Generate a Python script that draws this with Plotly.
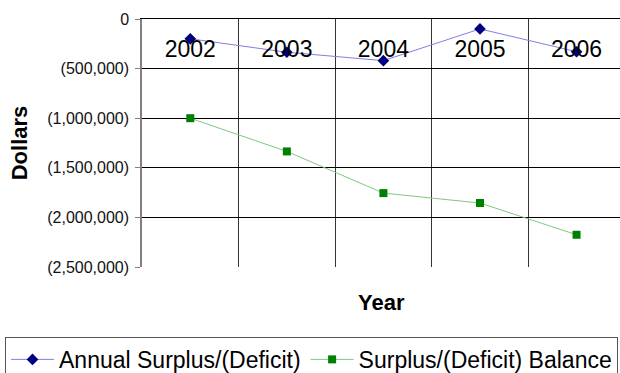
import plotly.graph_objects as go

years = ["2002", "2003", "2004", "2005", "2006"]
annual = [-200000, -335000, -420000, -100000, -330000]
balance = [-1000000, -1335000, -1755000, -1855000, -2175000]
y_tick_values = [0, -500000, -1000000, -1500000, -2000000, -2500000]
y_tick_labels = ["0", "(500,000)", "(1,000,000)", "(1,500,000)", "(2,000,000)", "(2,500,000)"]

FONT = "Liberation Sans, Arial, sans-serif"

fig = go.Figure()
fig.add_trace(go.Scatter(
    x=years, y=annual, name="Annual Surplus/(Deficit)", mode="lines+markers",
    line=dict(color="#8080e0", width=1),
    marker=dict(symbol="diamond", size=9, color="#000080"),
))
fig.add_trace(go.Scatter(
    x=years, y=balance, name="Surplus/(Deficit) Balance", mode="lines+markers",
    line=dict(color="#80c880", width=1),
    marker=dict(symbol="square", size=8, color="#008000"),
))

fig.update_layout(
    width=620, height=373,
    margin=dict(l=142, r=0, t=19, b=106, autoexpand=False),
    paper_bgcolor="white", plot_bgcolor="white",
    font=dict(family=FONT, color="black"),
    xaxis=dict(
        type="category", side="top", range=[-0.5, 4.45],
        ticklabelposition="outside", ticklabelstandoff=-48, ticks="",
        tickfont=dict(size=23, color="black"),
        tickson="boundaries", showgrid=True, gridcolor="#333333", gridwidth=1,
        showline=True, linecolor="black", linewidth=1, zeroline=False,
    ),
    yaxis=dict(
        range=[-2500000, 0], tickvals=y_tick_values, ticktext=y_tick_labels,
        tickfont=dict(size=16, color="#111111"),
        ticks="outside", ticklen=5, tickcolor="#808080", ticklabelstandoff=3,
        showgrid=True, gridcolor="black", gridwidth=1, zeroline=False,
        showline=True, linecolor="#808080", linewidth=1.5,
        title=dict(text="<b>Dollars</b>", font=dict(size=22, color="black"), standoff=14),
    ),
    legend=dict(
        orientation="h", x=-0.2866, y=-0.282, xanchor="left", yanchor="top",
        font=dict(size=23, color="black"),
        bordercolor="#555555", borderwidth=1, bgcolor="white",
        tracegroupgap=0, itemwidth=43,
    ),
    annotations=[dict(
        text="<b>Year</b>", xref="paper", yref="paper", x=0.5, y=-0.144,
        xanchor="center", yanchor="middle", showarrow=False,
        font=dict(size=22, color="black"),
    )],
)

fig.write_html("out.html")
